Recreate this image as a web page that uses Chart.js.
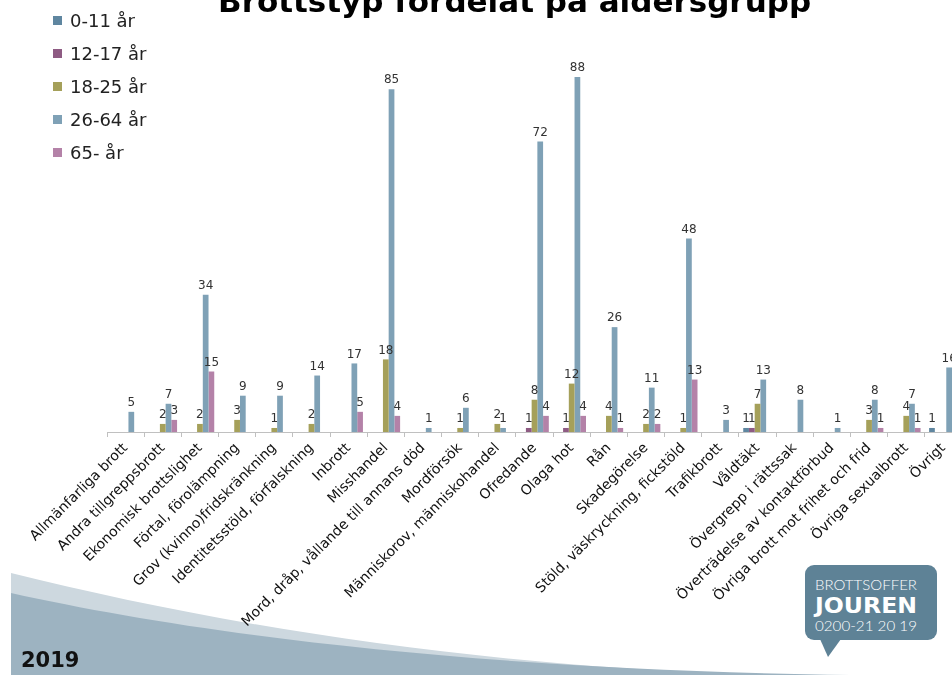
<!DOCTYPE html>
<html lang="sv">
<head>
<meta charset="utf-8">
<title>Brottstyp fördelat på åldersgrupp</title>
<script src="https://cdn.jsdelivr.net/npm/chart.js@4.4.1/dist/chart.umd.min.js"></script>
<style>
  html, body { margin: 0; padding: 0; background: #fff; overflow: hidden; }
  body { width: 952px; height: 675px; position: relative; font-family: "DejaVu Sans", Verdana, sans-serif; }
  #deco { position: absolute; left: 0; top: 0; }
  #wrap { position: absolute; left: 0; top: 0; width: 975px; height: 675px; }
  #title { position: absolute; left: 218px; top: -14px; font-size: 31px; line-height: 31px; font-weight: bold; color: #000; white-space: nowrap; }
  #legend { position: absolute; left: 53px; top: 4px; font-size: 18px; color: #222; }
  #legend .item { height: 33px; display: flex; align-items: center; }
  #legend .box { width: 9px; height: 9px; margin-right: 8px; }
  #year { position: absolute; left: 21px; top: 648px; font-size: 21px; font-weight: bold; color: #111; }
</style>
</head>
<body>
<svg id="deco" width="952" height="675">
  <path d="M11,573 C200,620 450,665 760,675 L11,675 Z" fill="#cdd8df"/>
  <path d="M11,593 C200,635 480,670 850,675 L11,675 Z" fill="#9db3c1"/>
  <g>
    <rect x="805" y="565" width="132" height="75" rx="9" fill="#5e8296"/>
    <path d="M820,639 L828,657 L841,639 Z" fill="#5e8296"/>
    <text x="866" y="590" fill="#fff" font-family="Lato, 'Open Sans', sans-serif" font-weight="300" font-size="14" text-anchor="middle" textLength="102" lengthAdjust="spacingAndGlyphs">BROTTSOFFER</text>
    <text x="866" y="613" fill="#fff" font-family="'DejaVu Sans', sans-serif" font-weight="bold" font-size="21" text-anchor="middle" textLength="102" lengthAdjust="spacingAndGlyphs">JOUREN</text>
    <text x="866" y="631" fill="#fff" font-family="Lato, 'Open Sans', sans-serif" font-weight="300" font-size="14" text-anchor="middle" textLength="102" lengthAdjust="spacingAndGlyphs">0200-21 20 19</text>
  </g>
</svg>
<div id="wrap"><canvas id="chart" width="975" height="675"></canvas></div>
<div id="title">Brottstyp fördelat på åldersgrupp</div>
<div id="legend"></div>
<div id="year">2019</div>
<script>
// Kategorier och värden per åldersgrupp
const categories = [
  'Allmänfarliga brott', 'Andra tillgreppsbrott', 'Ekonomisk brottslighet', 'Förtal, förolämpning',
  'Grov (kvinno)fridskränkning', 'Identitetsstöld, förfalskning', 'Inbrott', 'Misshandel',
  'Mord, dråp, vållande till annans död', 'Mordförsök', 'Människorov, människohandel', 'Ofredande',
  'Olaga hot', 'Rån', 'Skadegörelse', 'Stöld, väskryckning, fickstöld', 'Trafikbrott', 'Våldtäkt',
  'Övergrepp i rättssak', 'Överträdelse av kontaktförbud', 'Övriga brott mot frihet och frid',
  'Övriga sexualbrott', 'Övrigt'
];
const seriesNames = ['0-11 år', '12-17 år', '18-25 år', '26-64 år', '65- år'];
const age0_11  = [0, 0, 0, 0, 0, 0, 0, 0, 0, 0, 0, 0, 0, 0, 0, 0, 0, 1, 0, 0, 0, 0, 1];
const age12_17 = [0, 0, 0, 0, 0, 0, 0, 0, 0, 0, 0, 1, 1, 0, 0, 0, 0, 1, 0, 0, 0, 0, 0];
const age18_25 = [0, 2, 2, 3, 1, 2, 0, 18, 0, 1, 2, 8, 12, 4, 2, 1, 0, 7, 0, 0, 3, 4, 0];
const age26_64 = [5, 7, 34, 9, 9, 14, 17, 85, 1, 6, 1, 72, 88, 26, 11, 48, 3, 13, 8, 1, 8, 7, 16];
const age65    = [0, 3, 15, 0, 0, 0, 5, 4, 0, 0, 0, 4, 4, 1, 2, 13, 0, 0, 0, 0, 1, 1, 0];
const seriesColors = ['#5f86a0', '#8e5b83', '#a5a05a', '#7fa1b6', '#b482a8'];

const allSeries = [age0_11, age12_17, age18_25, age26_64, age65];

// HTML-legend
const legendEl = document.getElementById('legend');
seriesNames.forEach((name, i) => {
  const item = document.createElement('div');
  item.className = 'item';
  item.innerHTML = `<span class="box" style="background:${seriesColors[i]}"></span><span>${name}</span>`;
  legendEl.appendChild(item);
});

// Värdeetiketter ovanför staplarna
const valueLabels = {
  id: 'valueLabels',
  afterDatasetsDraw(chart) {
    const ctx = chart.ctx;
    ctx.save();
    ctx.font = '12px "DejaVu Sans"';
    ctx.fillStyle = '#333';
    ctx.textAlign = 'center';
    ctx.textBaseline = 'bottom';
    chart.data.datasets.forEach((ds, i) => {
      chart.getDatasetMeta(i).data.forEach((bar, j) => {
        const v = ds.data[j];
        if (!v) return;
        ctx.fillText(String(v), bar.x, bar.y - 3);
      });
    });
    ctx.restore();
  }
};

new Chart(document.getElementById('chart'), {
  type: 'bar',
  data: {
    labels: categories,
    datasets: allSeries.map((vals, i) => ({
      label: seriesNames[i],
      data: vals,
      backgroundColor: seriesColors[i],
      barPercentage: 1,
      categoryPercentage: 0.77
    }))
  },
  options: {
    responsive: false,
    animation: false,
    layout: { padding: { left: 107, right: 13, top: 69, bottom: 0 } },
    plugins: {
      legend: { display: false },
      tooltip: { enabled: false }
    },
    scales: {
      x: {
        grid: { drawOnChartArea: false, drawTicks: true, tickLength: 5, color: '#c0c0c0' },
        border: { display: true, color: '#c0c0c0' },
        ticks: {
          autoSkip: false,
          maxRotation: 45,
          minRotation: 45,
          color: '#111',
          font: { family: '"DejaVu Sans"', size: 14 }
        },
        afterFit(scale) { scale.height = 243; }
      },
      y: {
        display: false,
        min: 0,
        max: 90
      }
    }
  },
  plugins: [valueLabels]
});
</script>
</body>
</html>
